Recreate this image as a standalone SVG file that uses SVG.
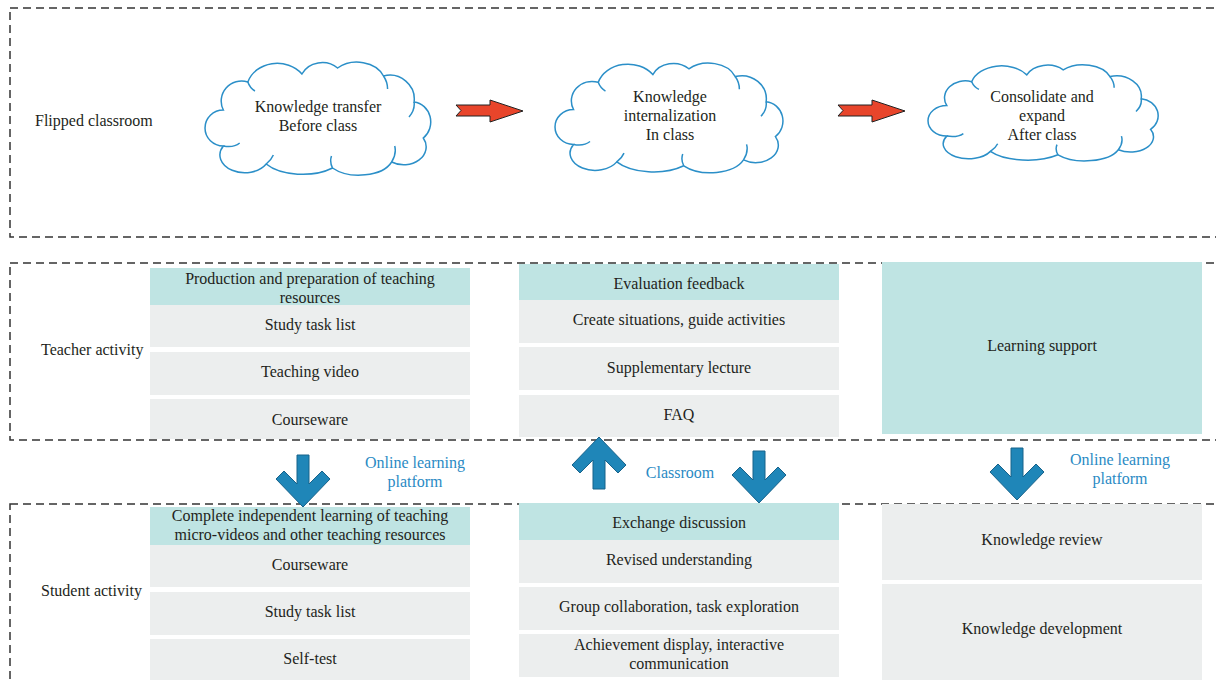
<svg xmlns="http://www.w3.org/2000/svg" width="1216" height="680" viewBox="0 0 1216 680">
  <style>
    .zone { fill: none; stroke: #333; stroke-width: 1.5; stroke-dasharray: 8 5; }
    .head { fill: #bfe4e3; }
    .cell { fill: #eceeee; }
    .txt { font-family: "Liberation Serif", "DejaVu Serif", serif; font-size: 16px; fill: #231f20; text-anchor: middle; }
    .side { font-family: "Liberation Serif", "DejaVu Serif", serif; font-size: 16px; fill: #231f20; }
    .blue { font-family: "Liberation Serif", "DejaVu Serif", serif; font-size: 16px; fill: #2a8ac4; text-anchor: middle; }
    .cloud { fill: #fff; stroke: #2b8fc8; stroke-width: 1.5; vector-effect: non-scaling-stroke; }
    .crease { fill: none; stroke: #2b8fc8; stroke-width: 1.5; vector-effect: non-scaling-stroke; }
    .red { fill: #e8452b; stroke: #222; stroke-width: 1; }
    .blueArrow { fill: #1f86b8; stroke: #17628a; stroke-width: 1; }
  </style>
  <defs>
    <!-- cloud outline in a 220x115 local box -->
    <g id="cloudShape">
      <path class="cloud" d="M 18,50 A 20,20 0 0 1 42,22 A 30,26 0 0 1 95,14 A 22,20 0 0 1 130,8 A 28,22 0 0 1 175,16 A 24,24 0 0 1 205,42 A 18,20 0 0 1 214,78 A 22,18 0 0 1 183,102 A 34,20 0 0 1 125,108 A 42,22 0 0 1 60,104 A 22,16 0 0 1 18,86 A 18,18 0 0 1 18,50 Z"/>
      <path class="crease" d="M 18,86 Q 28,88 34,83 M 42,22 Q 44,28 49,31 M 175,16 Q 179,22 179,29 M 205,42 Q 206,50 200,57 M 183,102 Q 188,94 186,86 M 125,108 Q 122,102 124,96 M 60,104 Q 65,100 67,95"/>
    </g>
    <!-- thick chevron arrow pointing down, tip at (0,0) -->
    <path id="downArrow" class="blueArrow" d="M -6,-52 L 6,-52 L 6,-23 L 19,-36 L 27,-28 L 0,0 L -27,-28 L -19,-36 L -6,-23 Z"/>
  </defs>

  <!-- swimlane frames -->
  <g id="lanes">
    <rect class="zone" x="10" y="8" width="1220" height="229"/>
    <rect class="zone" x="10" y="263" width="1220" height="177"/>
    <rect class="zone" x="10" y="504" width="1220" height="200"/>
  </g>

  <!-- lane titles -->
  <text class="side" x="35" y="126">Flipped classroom</text>
  <text class="side" x="41" y="355">Teacher activity</text>
  <text class="side" x="41" y="596">Student activity</text>

  <!-- flipped classroom stages -->
  <g id="stage-before">
    <use href="#cloudShape" transform="translate(205,60) scale(1.02,1.0)"/>
    <text class="txt" x="318" y="112">Knowledge transfer</text>
    <text class="txt" x="318" y="131">Before class</text>
  </g>
  <g id="stage-in">
    <use href="#cloudShape" transform="translate(555,61) scale(1.03,0.97)"/>
    <text class="txt" x="670" y="102">Knowledge</text>
    <text class="txt" x="670" y="121">internalization</text>
    <text class="txt" x="670" y="140">In class</text>
  </g>
  <g id="stage-after">
    <use href="#cloudShape" transform="translate(928,63) scale(1.04,0.85)"/>
    <text class="txt" x="1042" y="102">Consolidate and</text>
    <text class="txt" x="1042" y="121">expand</text>
    <text class="txt" x="1042" y="140">After class</text>
  </g>

  <!-- teacher activity -->
  <g id="teacher-before">
    <rect class="head" x="150" y="268" width="320" height="37"/>
    <rect class="cell" x="150" y="305" width="320" height="42"/>
    <rect class="cell" x="150" y="352" width="320" height="43"/>
    <rect class="cell" x="150" y="399" width="320" height="40"/>
    <text class="txt" x="310" y="284">Production and preparation of teaching</text>
    <text class="txt" x="310" y="303">resources</text>
    <text class="txt" x="310" y="330">Study task list</text>
    <text class="txt" x="310" y="377">Teaching video</text>
    <text class="txt" x="310" y="425">Courseware</text>
  </g>
  <g id="teacher-in">
    <rect class="head" x="519" y="264" width="320" height="36"/>
    <rect class="cell" x="519" y="300" width="320" height="43"/>
    <rect class="cell" x="519" y="347" width="320" height="43"/>
    <rect class="cell" x="519" y="395" width="320" height="42"/>
    <text class="txt" x="679" y="289">Evaluation feedback</text>
    <text class="txt" x="679" y="325">Create situations, guide activities</text>
    <text class="txt" x="679" y="373">Supplementary lecture</text>
    <text class="txt" x="679" y="420">FAQ</text>
  </g>
  <g id="teacher-after">
    <rect class="head" x="882" y="262" width="320" height="172"/>
    <text class="txt" x="1042" y="351">Learning support</text>
  </g>

  <!-- student activity -->
  <g id="student-before">
    <rect class="head" x="150" y="507" width="320" height="38"/>
    <rect class="cell" x="150" y="545" width="320" height="42"/>
    <rect class="cell" x="150" y="592" width="320" height="43"/>
    <rect class="cell" x="150" y="639" width="320" height="45"/>
    <text class="txt" x="310" y="521">Complete independent learning of teaching</text>
    <text class="txt" x="310" y="540">micro-videos and other teaching resources</text>
    <text class="txt" x="310" y="570">Courseware</text>
    <text class="txt" x="310" y="617">Study task list</text>
    <text class="txt" x="310" y="664">Self-test</text>
  </g>
  <g id="student-in">
    <rect class="head" x="519" y="503" width="320" height="37"/>
    <rect class="cell" x="519" y="540" width="320" height="43"/>
    <rect class="cell" x="519" y="587" width="320" height="43"/>
    <rect class="cell" x="519" y="634" width="320" height="43"/>
    <text class="txt" x="679" y="528">Exchange discussion</text>
    <text class="txt" x="679" y="565">Revised understanding</text>
    <text class="txt" x="679" y="612">Group collaboration, task exploration</text>
    <text class="txt" x="679" y="650">Achievement display, interactive</text>
    <text class="txt" x="679" y="669">communication</text>
  </g>
  <g id="student-after">
    <rect class="cell" x="882" y="504" width="320" height="76"/>
    <rect class="cell" x="882" y="584" width="320" height="100"/>
    <text class="txt" x="1042" y="545">Knowledge review</text>
    <text class="txt" x="1042" y="634">Knowledge development</text>
  </g>

  <!-- connectors -->
  <g id="connectors">
    <polygon class="red" points="456,105 490,105 490,100 523,111 490,122 490,116 456,116 461,110.5"/>
    <polygon class="red" points="838,105 872,105 872,100 905,111 872,122 872,116 838,116 843,110.5"/>
    <use href="#downArrow" transform="translate(303,507)"/>
    <use href="#downArrow" transform="translate(599,437) rotate(180)"/>
    <use href="#downArrow" transform="translate(759,503)"/>
    <use href="#downArrow" transform="translate(1017,500)"/>
    <text class="blue" x="415" y="468">Online learning</text>
    <text class="blue" x="415" y="487">platform</text>
    <text class="blue" x="680" y="478">Classroom</text>
    <text class="blue" x="1120" y="465">Online learning</text>
    <text class="blue" x="1120" y="484">platform</text>
  </g>
</svg>
